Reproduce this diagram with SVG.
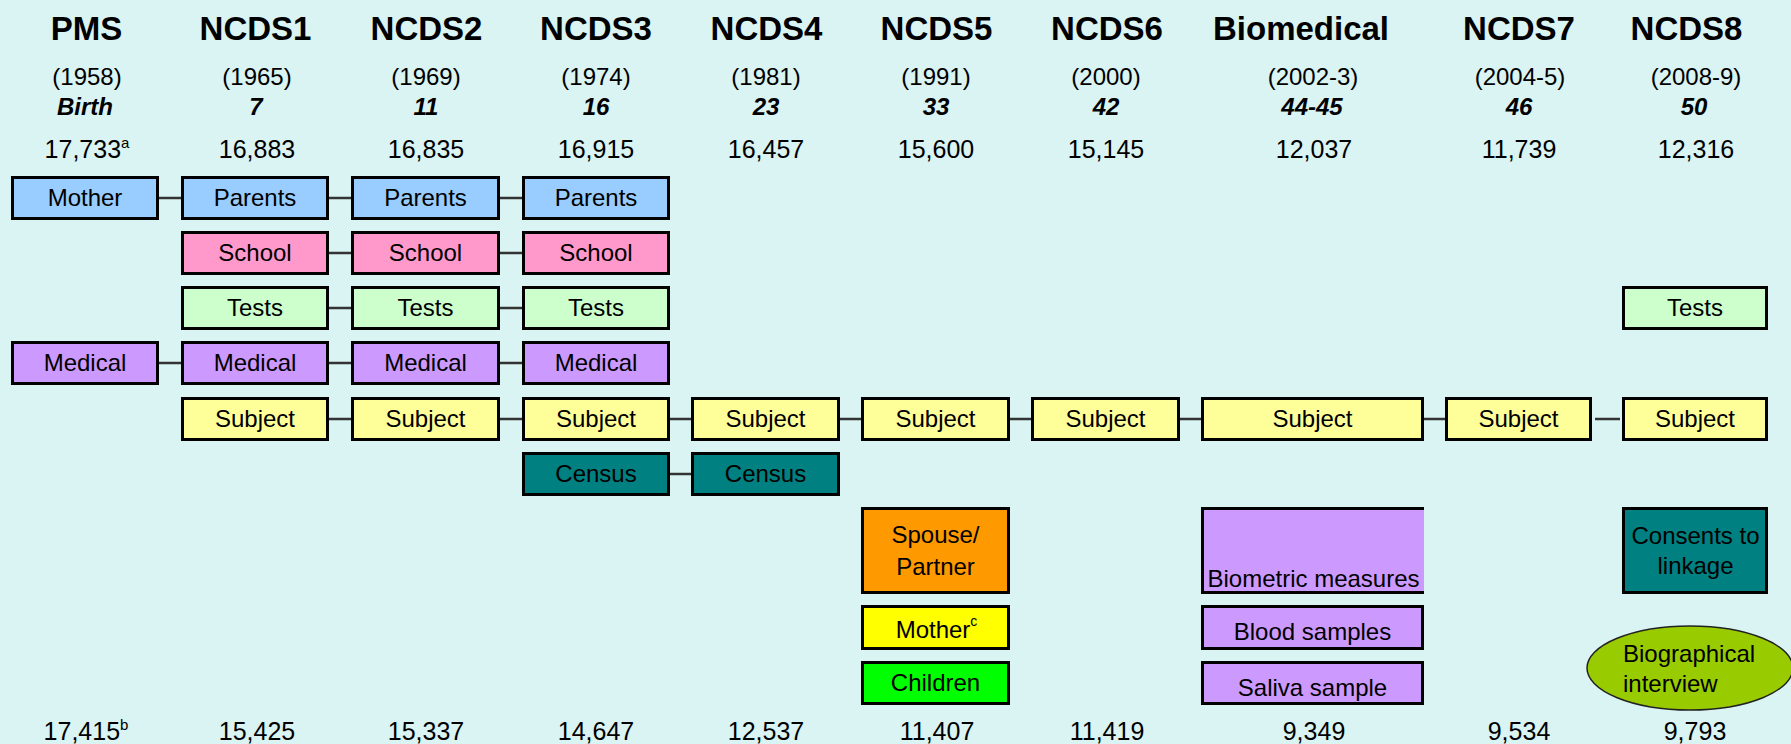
<svg xmlns="http://www.w3.org/2000/svg" width="1791" height="744" viewBox="0 0 1791 744">
<style>
text{font-family:"Liberation Sans",Arial,sans-serif;fill:#000}
.h{font-size:33px;font-weight:bold;text-anchor:middle}
.yr{font-size:24px;text-anchor:middle}
.age{font-size:24px;font-weight:bold;font-style:italic;text-anchor:middle}
.n{font-size:25px;text-anchor:middle}
.t{font-size:24px;text-anchor:middle}
.b{stroke:#000;stroke-width:3}
.par{fill:#99CCFF}.sch{fill:#FF99CC}.tst{fill:#CCFFCC}.med{fill:#CC99FF}.sub{fill:#FFFF99}.cen{fill:#008080}
.sp{fill:#FF9900}.mo{fill:#FFFF00}.ch{fill:#00FF00}
.c{stroke:#333;stroke-width:2.5}
</style>
<rect width="1791" height="744" fill="#DAF3F3"/>
<g id="headers">
<text class="h" x="86.5" y="39.5">PMS</text>
<text class="h" x="255.5" y="39.5">NCDS1</text>
<text class="h" x="426.5" y="39.5">NCDS2</text>
<text class="h" x="596" y="39.5">NCDS3</text>
<text class="h" x="766.5" y="39.5">NCDS4</text>
<text class="h" x="936.5" y="39.5">NCDS5</text>
<text class="h" x="1107" y="39.5">NCDS6</text>
<text class="h" x="1301" y="39.5">Biomedical</text>
<text class="h" x="1519" y="39.5">NCDS7</text>
<text class="h" x="1686.5" y="39.5">NCDS8</text>
<text class="yr" x="87" y="85">(1958)</text>
<text class="yr" x="257" y="85">(1965)</text>
<text class="yr" x="426" y="85">(1969)</text>
<text class="yr" x="596" y="85">(1974)</text>
<text class="yr" x="766" y="85">(1981)</text>
<text class="yr" x="936" y="85">(1991)</text>
<text class="yr" x="1106" y="85">(2000)</text>
<text class="yr" x="1313" y="85">(2002-3)</text>
<text class="yr" x="1520" y="85">(2004-5)</text>
<text class="yr" x="1696" y="85">(2008-9)</text>
<text class="age" x="85" y="115">Birth</text>
<text class="age" x="256" y="115">7</text>
<text class="age" x="426" y="115">11</text>
<text class="age" x="596" y="115">16</text>
<text class="age" x="766" y="115">23</text>
<text class="age" x="936" y="115">33</text>
<text class="age" x="1106" y="115">42</text>
<text class="age" x="1312" y="115">44-45</text>
<text class="age" x="1519" y="115">46</text>
<text class="age" x="1694" y="115">50</text>
<text class="n" x="87" y="158">17,733<tspan font-size="15" dy="-10">a</tspan></text>
<text class="n" x="257" y="158">16,883</text>
<text class="n" x="426" y="158">16,835</text>
<text class="n" x="596" y="158">16,915</text>
<text class="n" x="766" y="158">16,457</text>
<text class="n" x="936" y="158">15,600</text>
<text class="n" x="1106" y="158">15,145</text>
<text class="n" x="1314" y="158">12,037</text>
<text class="n" x="1519" y="158">11,739</text>
<text class="n" x="1696" y="158">12,316</text>
</g>
<g id="footer">
<text class="n" x="86" y="740">17,415<tspan font-size="15" dy="-10">b</tspan></text>
<text class="n" x="257" y="740">15,425</text>
<text class="n" x="426" y="740">15,337</text>
<text class="n" x="596" y="740">14,647</text>
<text class="n" x="766" y="740">12,537</text>
<text class="n" x="937" y="740">11,407</text>
<text class="n" x="1107" y="740">11,419</text>
<text class="n" x="1314" y="740">9,349</text>
<text class="n" x="1519" y="740">9,534</text>
<text class="n" x="1695" y="740">9,793</text>
</g>
<g id="connectors">
<line class="c" x1="159" y1="198" x2="181" y2="198"/>
<line class="c" x1="329" y1="198" x2="351" y2="198"/>
<line class="c" x1="500" y1="198" x2="522" y2="198"/>
<line class="c" x1="329" y1="253" x2="351" y2="253"/>
<line class="c" x1="500" y1="253" x2="522" y2="253"/>
<line class="c" x1="329" y1="308" x2="351" y2="308"/>
<line class="c" x1="500" y1="308" x2="522" y2="308"/>
<line class="c" x1="159" y1="363" x2="181" y2="363"/>
<line class="c" x1="329" y1="363" x2="351" y2="363"/>
<line class="c" x1="500" y1="363" x2="522" y2="363"/>
<line class="c" x1="329" y1="419" x2="351" y2="419"/>
<line class="c" x1="500" y1="419" x2="522" y2="419"/>
<line class="c" x1="670" y1="419" x2="691" y2="419"/>
<line class="c" x1="840" y1="419" x2="861" y2="419"/>
<line class="c" x1="1010" y1="419" x2="1031" y2="419"/>
<line class="c" x1="1180" y1="419" x2="1201" y2="419"/>
<line class="c" x1="1424" y1="419" x2="1445" y2="419"/>
<line class="c" x1="1595" y1="419" x2="1620" y2="419"/>
<line class="c" x1="670" y1="474" x2="691" y2="474"/>
</g>
<g id="pms-mother"><rect class="b par" x="12.5" y="177.5" width="145" height="41"/><text class="t" x="85" y="206">Mother</text></g>
<g id="pms-medical"><rect class="b med" x="12.5" y="342.5" width="145" height="41"/><text class="t" x="85" y="371">Medical</text></g>
<g id="n1-parents"><rect class="b par" x="182.5" y="177.5" width="145" height="41"/><text class="t" x="255" y="206">Parents</text></g>
<g id="n1-school"><rect class="b sch" x="182.5" y="232.5" width="145" height="41"/><text class="t" x="255" y="261">School</text></g>
<g id="n1-tests"><rect class="b tst" x="182.5" y="287.5" width="145" height="41"/><text class="t" x="255" y="316">Tests</text></g>
<g id="n1-medical"><rect class="b med" x="182.5" y="342.5" width="145" height="41"/><text class="t" x="255" y="371">Medical</text></g>
<g id="n1-subject"><rect class="b sub" x="182.5" y="398.5" width="145" height="41"/><text class="t" x="255" y="427">Subject</text></g>
<g id="n2-parents"><rect class="b par" x="352.5" y="177.5" width="146" height="41"/><text class="t" x="425.5" y="206">Parents</text></g>
<g id="n2-school"><rect class="b sch" x="352.5" y="232.5" width="146" height="41"/><text class="t" x="425.5" y="261">School</text></g>
<g id="n2-tests"><rect class="b tst" x="352.5" y="287.5" width="146" height="41"/><text class="t" x="425.5" y="316">Tests</text></g>
<g id="n2-medical"><rect class="b med" x="352.5" y="342.5" width="146" height="41"/><text class="t" x="425.5" y="371">Medical</text></g>
<g id="n2-subject"><rect class="b sub" x="352.5" y="398.5" width="146" height="41"/><text class="t" x="425.5" y="427">Subject</text></g>
<g id="n3-parents"><rect class="b par" x="523.5" y="177.5" width="145" height="41"/><text class="t" x="596" y="206">Parents</text></g>
<g id="n3-school"><rect class="b sch" x="523.5" y="232.5" width="145" height="41"/><text class="t" x="596" y="261">School</text></g>
<g id="n3-tests"><rect class="b tst" x="523.5" y="287.5" width="145" height="41"/><text class="t" x="596" y="316">Tests</text></g>
<g id="n3-medical"><rect class="b med" x="523.5" y="342.5" width="145" height="41"/><text class="t" x="596" y="371">Medical</text></g>
<g id="n3-subject"><rect class="b sub" x="523.5" y="398.5" width="145" height="41"/><text class="t" x="596" y="427">Subject</text></g>
<g id="n3-census"><rect class="b cen" x="523.5" y="453.5" width="145" height="41"/><text class="t" x="596" y="482">Census</text></g>
<g id="n4-subject"><rect class="b sub" x="692.5" y="398.5" width="146" height="41"/><text class="t" x="765.5" y="427">Subject</text></g>
<g id="n4-census"><rect class="b cen" x="692.5" y="453.5" width="146" height="41"/><text class="t" x="765.5" y="482">Census</text></g>
<g id="n5-subject"><rect class="b sub" x="862.5" y="398.5" width="146" height="41"/><text class="t" x="935.5" y="427">Subject</text></g>
<g id="n5-spouse"><rect class="b sp" x="862.5" y="508.5" width="146" height="84"/><text class="t" x="935.5" y="543">Spouse/</text><text class="t" x="935.5" y="575">Partner</text></g>
<g id="n5-mother"><rect class="b mo" x="862.5" y="606.5" width="146" height="42"/><text class="t" x="936.5" y="638">Mother<tspan font-size="14" dy="-12">c</tspan></text></g>
<g id="n5-children"><rect class="b ch" x="862.5" y="662.5" width="146" height="41"/><text class="t" x="935.5" y="691">Children</text></g>
<g id="n6-subject"><rect class="b sub" x="1032.5" y="398.5" width="146" height="41"/><text class="t" x="1105.5" y="427">Subject</text></g>
<g id="bio-subject"><rect class="b sub" x="1202.5" y="398.5" width="220" height="41"/><text class="t" x="1312.5" y="427">Subject</text></g>
<g id="bio-biometric"><rect class="med" x="1201" y="507" width="223" height="87"/><path class="b" fill="none" d="M1424,508.5H1202.5V592.5H1424"/><text class="t" x="1313.5" y="587">Biometric measures</text></g>
<g id="bio-blood"><rect class="b med" x="1202.5" y="606.5" width="220" height="42"/><text class="t" x="1312.5" y="640">Blood samples</text></g>
<g id="bio-saliva"><rect class="b med" x="1202.5" y="662.5" width="220" height="41"/><text class="t" x="1312.5" y="696">Saliva sample</text></g>
<g id="n7-subject"><rect class="b sub" x="1446.5" y="398.5" width="144" height="41"/><text class="t" x="1518.5" y="427">Subject</text></g>
<g id="n8-tests"><rect class="b tst" x="1623.5" y="287.5" width="143" height="41"/><text class="t" x="1695" y="316">Tests</text></g>
<g id="n8-subject"><rect class="b sub" x="1623.5" y="398.5" width="143" height="41"/><text class="t" x="1695" y="427">Subject</text></g>
<g id="n8-consents"><rect class="b cen" x="1623.5" y="508.5" width="143" height="84"/><text class="t" x="1695.5" y="544">Consents to</text><text class="t" x="1695.5" y="574">linkage</text></g>
<g id="n8-biographical"><ellipse cx="1690" cy="668" rx="103" ry="42" fill="#99CC00" stroke="#222" stroke-width="1.5"/><text style="font-size:24px" x="1623" y="662">Biographical</text><text style="font-size:24px" x="1623" y="692">interview</text></g>
</svg>
